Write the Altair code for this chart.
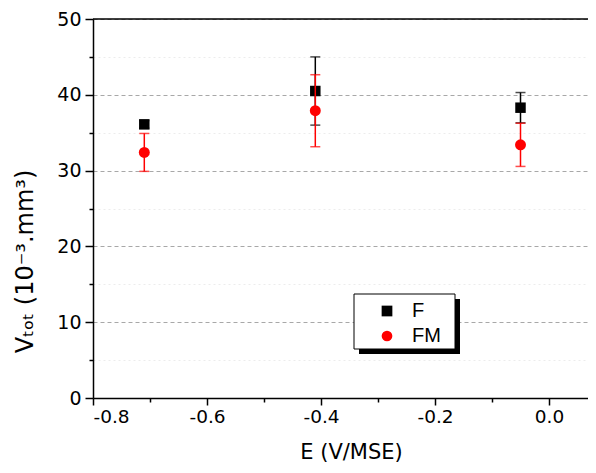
import altair as alt
import pandas as pd

# ---- data ----
E = [-0.71, -0.41, -0.05]
F = [36.1, 40.5, 38.3]
F_err = [0.5, 4.5, 2.0]
FM = [32.4, 37.9, 33.4]
FM_err = [2.5, 4.75, 2.85]
series = ["F", "FM"]
colors = ["black", "red"]
shapes = ["square", "circle"]
x_major = [-0.8, -0.6, -0.4, -0.2, 0.0]
x_minor = [-0.7, -0.5, -0.3, -0.1]
y_major = [0, 10, 20, 30, 40, 50]
y_minor = [5, 15, 25, 35, 45]

rows = []
for s, vals, errs in [("F", F, F_err), ("FM", FM, FM_err)]:
    for e, v, er in zip(E, vals, errs):
        rows.append({"E": e, "V": v, "lo": v - er, "hi": v + er, "series": s})
df = pd.DataFrame(rows)
one = pd.DataFrame({"k": [0]})

FONT = "DejaVu Sans"
LFONT = "Liberation Sans"
W, H = 495, 379
xs = alt.Scale(domain=[-0.8, -0.8 + W / 570], nice=False, zero=False)
ys = alt.Scale(domain=[0, 50], nice=False, zero=False)

lbl = "replace(format(datum.value, '.1f'), '\u2212', '-')"

major = alt.Chart(df).mark_point(opacity=0).encode(
    x=alt.X("E:Q", scale=xs, axis=alt.Axis(
        orient="bottom", values=x_major, labelExpr=lbl, grid=False,
        tickSize=7, tickWidth=1.5, tickColor="black", domainColor="black",
        domainWidth=1.5, labelFont=FONT, labelFontSize=18.5, labelColor="black",
        labelPadding=2, title="E (V/MSE)", titleFont=FONT, titleFontSize=21,
        titleFontWeight="normal", titleColor="black", titleX=258, titleY=43)),
    y=alt.Y("V:Q", scale=ys, axis=alt.Axis(
        orient="left", values=y_major, format="d", grid=True,
        gridDash=[4, 3], gridColor="#a8a8a8", gridWidth=1,
        tickSize=8, tickWidth=1.5, tickColor="black", domainColor="black",
        domainWidth=1.5, labelFont=FONT, labelFontSize=19, labelColor="black",
        labelPadding=4, title="V\u209c\u2092\u209c (10\u207b\u00b3.mm\u00b3)",
        titleFont=FONT, titleFontSize=24, titleFontWeight="normal",
        titleColor="black", titleX=-56, titleY=242)),
)

minor = alt.Chart(df).mark_point(opacity=0).encode(
    x=alt.X("E:Q", scale=xs, axis=alt.Axis(
        orient="bottom", values=x_minor, labels=False, domain=False,
        grid=False, tickSize=4, tickWidth=1.5, tickColor="black", title=None)),
    y=alt.Y("V:Q", scale=ys, axis=alt.Axis(
        orient="left", values=y_minor, labels=False, domain=False,
        grid=True, gridColor="#ececec", gridDash=[2, 3], gridWidth=1,
        tickSize=4, tickWidth=1.5, tickColor="black", title=None)),
)

legend = alt.Legend(
    title=None, orient="none", legendX=284, legendY=282, symbolSize=115,
    symbolStrokeWidth=0, labelFont=LFONT, labelFontSize=20, labelColor="black",
    labelOffset=15, rowPadding=5, padding=0)


def series_layers(name, color, size):
    d = alt.Chart(df).transform_filter(alt.datum.series == name)
    rule = d.mark_rule(color=color, strokeWidth=1.5).encode(
        x=alt.X("E:Q", scale=xs, axis=None),
        y=alt.Y("lo:Q", scale=ys, axis=None),
        y2="hi:Q",
    )
    caps = d.transform_fold(["lo", "hi"], as_=["kind", "val"]).mark_tick(
        orient="horizontal", size=10, thickness=1.5, color=color).encode(
        x=alt.X("E:Q", scale=xs, axis=None),
        y=alt.Y("val:Q", scale=ys, axis=None),
    )
    pts = d.mark_point(filled=True, size=size, opacity=1).encode(
        x=alt.X("E:Q", scale=xs, axis=None),
        y=alt.Y("V:Q", scale=ys, axis=None),
        color=alt.Color("series:N", scale=alt.Scale(domain=series, range=colors), legend=legend),
        shape=alt.Shape("series:N", scale=alt.Scale(domain=series, range=shapes), legend=legend),
    )
    return [rule, caps, pts]


top = alt.Chart(one).mark_rule(color="black", strokeWidth=1.5).encode(
    y=alt.YDatum(50, scale=ys, axis=None))

shadow = alt.Chart(one).mark_rect(fill="black").encode(
    x=alt.value(266), x2=alt.value(367), y=alt.value(280), y2=alt.value(335))
box = alt.Chart(one).mark_rect(fill="white", stroke="black", strokeWidth=1).encode(
    x=alt.value(261), x2=alt.value(362), y=alt.value(275), y2=alt.value(330))

chart = alt.layer(
    minor, major,
    *series_layers("F", "black", 110),
    *series_layers("FM", "red", 120),
    top, shadow, box,
).resolve_axis(x="independent", y="independent").properties(
    width=W, height=H,
    autosize=alt.AutoSizeParams(type="none"),
    padding={"left": 85, "top": 11, "right": 0, "bottom": 66},
    background="white",
).configure_view(stroke=None)

chart.save("out.html", embed_options={"renderer": "svg", "actions": False})
